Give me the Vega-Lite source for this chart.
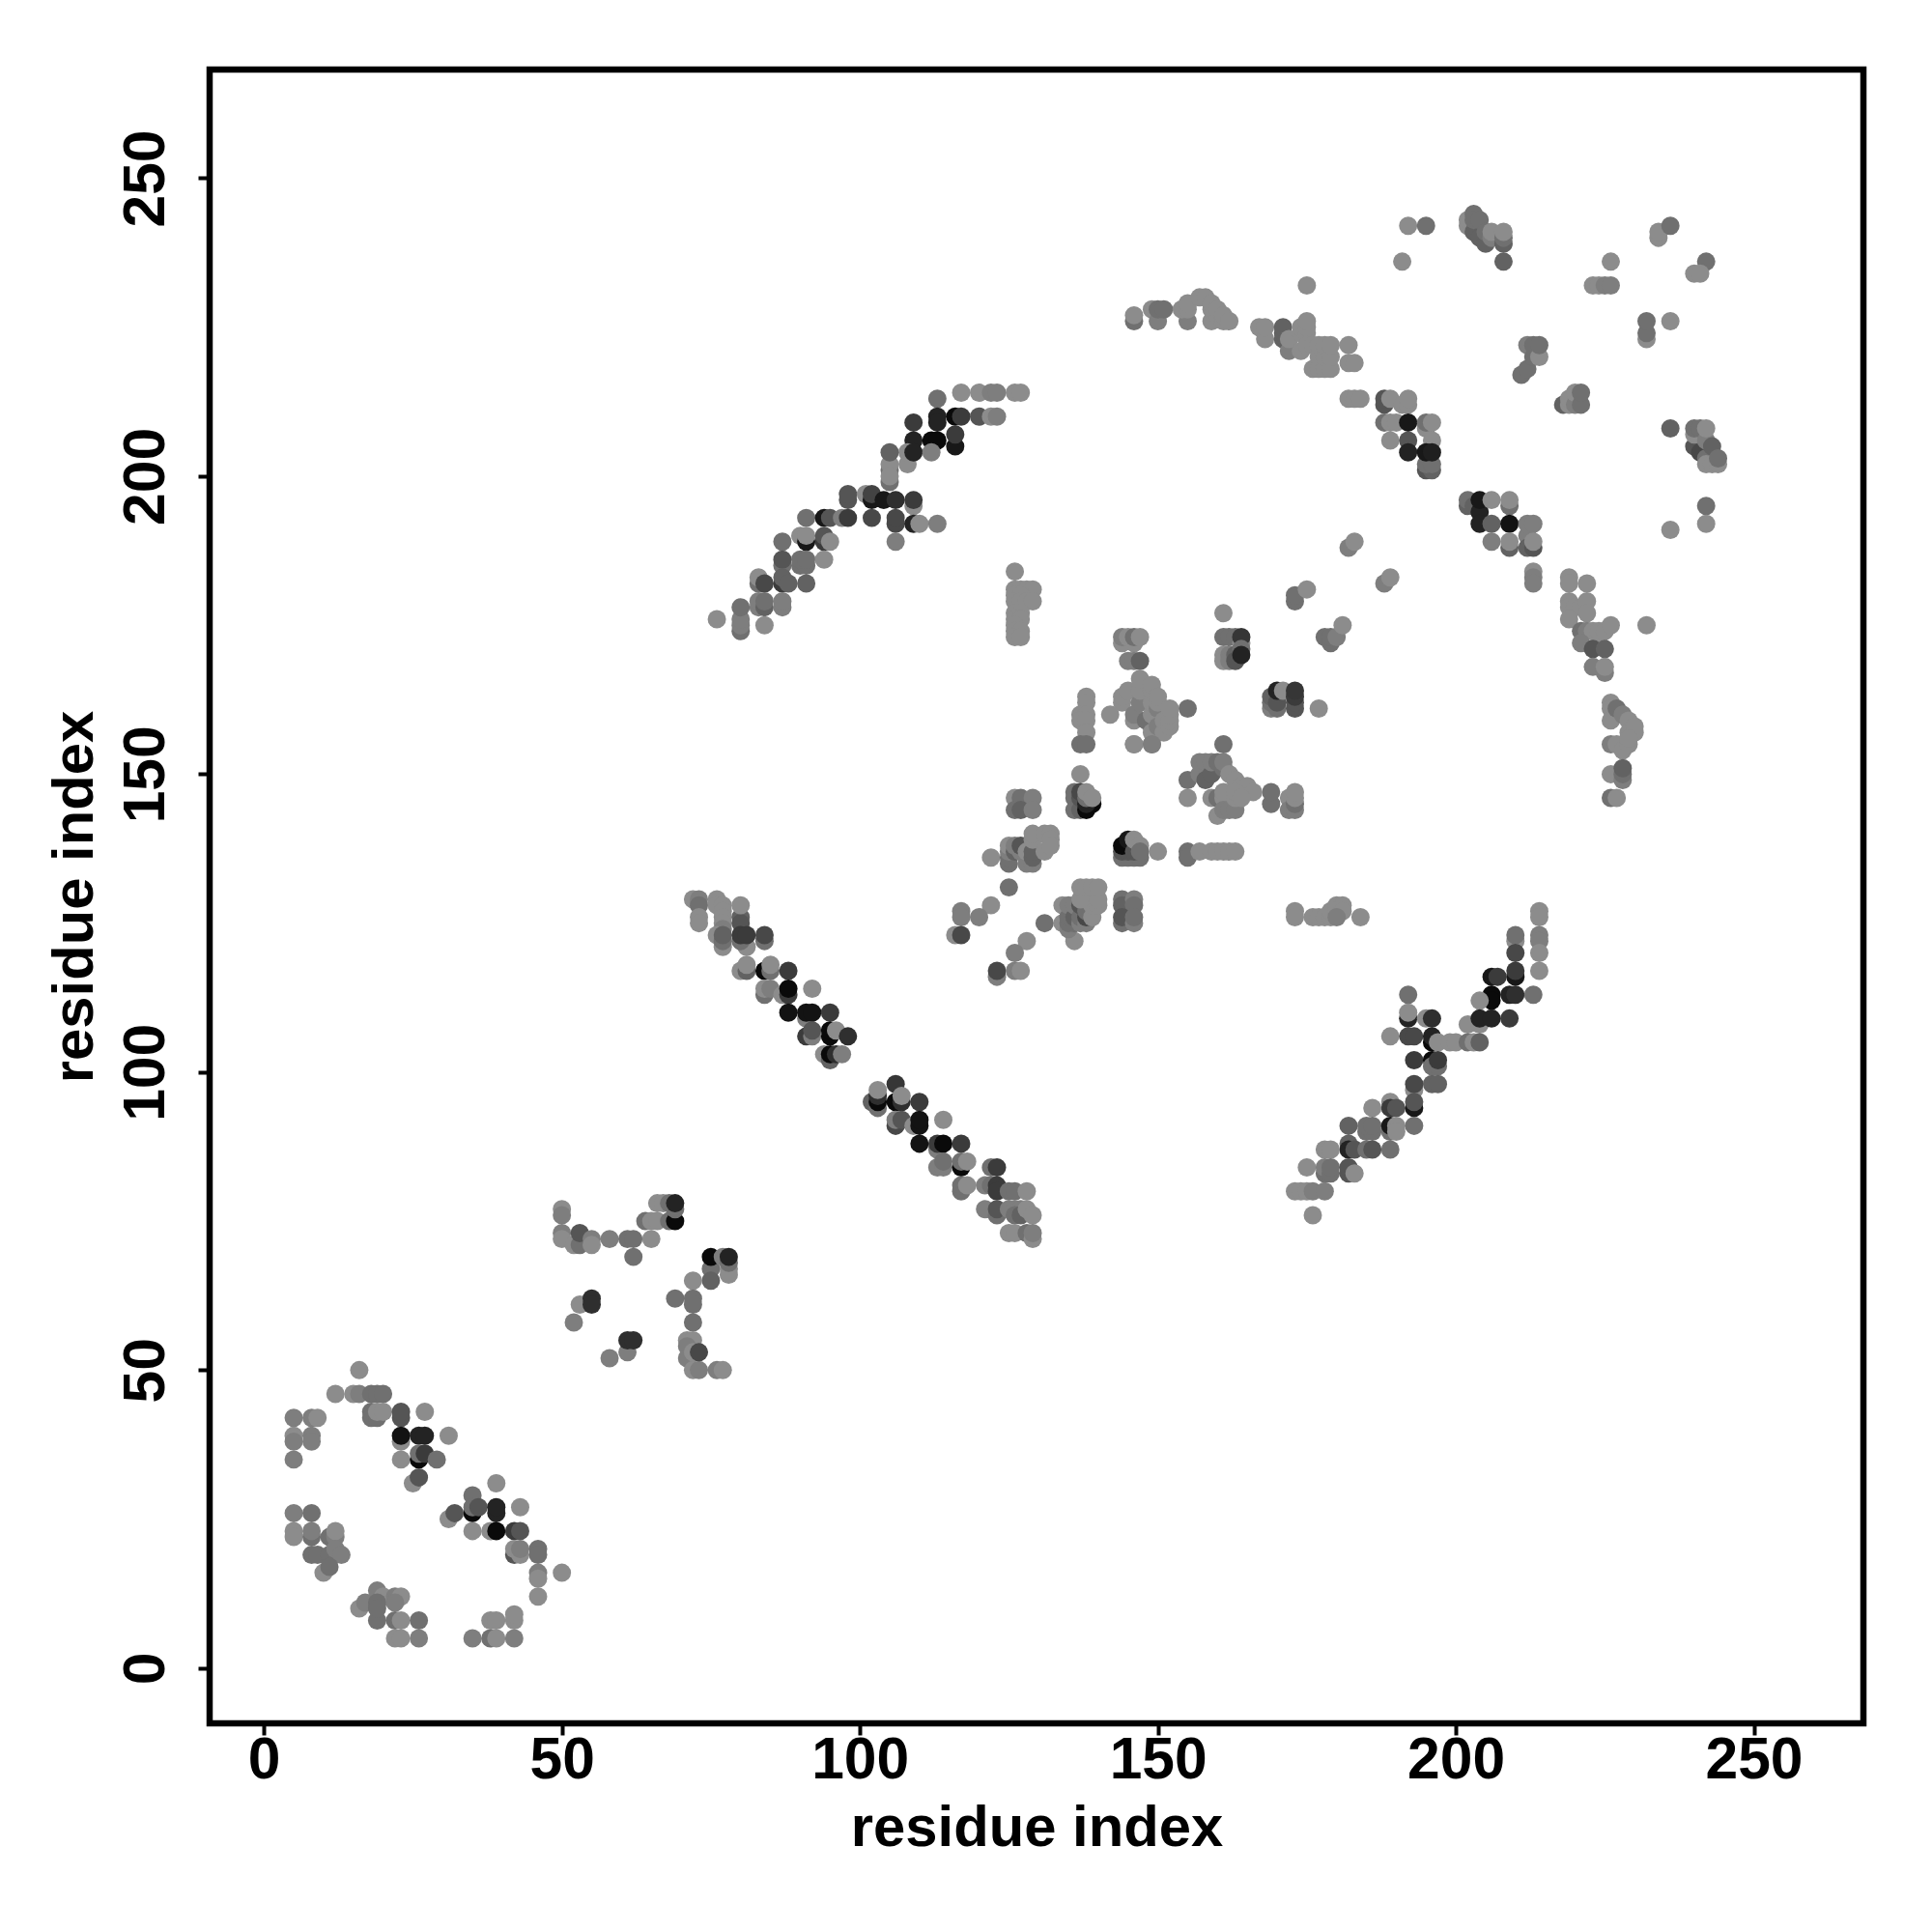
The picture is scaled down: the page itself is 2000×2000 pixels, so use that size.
{"$schema":"https://vega.github.io/schema/vega-lite/v6.json","width":1712,"height":1712,"autosize":"none","padding":{"left":217,"top":72,"right":71,"bottom":216},"background":"white","view":{"stroke":"black","strokeWidth":6.5,"fill":"white"},"data":{"values":[
{"x":16,"y":50,"s":0},{"x":12,"y":46,"s":0},{"x":15,"y":46,"s":0},{"x":16,"y":46,"s":0.5},{"x":18,"y":46,"s":1},{"x":19,"y":46,"s":1},{"x":20,"y":46,"s":1},{"x":5,"y":42,"s":0.5},{"x":8,"y":42,"s":0.5},{"x":9,"y":42,"s":0},{"x":18,"y":43,"s":1},{"x":18,"y":42,"s":1},{"x":19,"y":42,"s":1},{"x":19,"y":43,"s":0},{"x":20,"y":43,"s":0},{"x":23,"y":42,"s":2},{"x":23,"y":43,"s":2},{"x":27,"y":43,"s":0},{"x":23,"y":38,"s":0},{"x":23,"y":39,"s":4.7},{"x":26,"y":39,"s":4},{"x":27,"y":39,"s":4},{"x":31,"y":39,"s":0},{"x":5,"y":39,"s":0},{"x":5,"y":38,"s":0.5},{"x":8,"y":39,"s":0.5},{"x":8,"y":38,"s":0.5},{"x":23,"y":35,"s":0},{"x":26,"y":35,"s":5},{"x":26,"y":36,"s":1},{"x":27,"y":36,"s":3},{"x":29,"y":35,"s":1},{"x":5,"y":35,"s":0.5},{"x":25,"y":31,"s":0},{"x":26,"y":32,"s":2},
{"x":39,"y":31,"s":0},{"x":35,"y":29,"s":1},{"x":35,"y":26,"s":5},{"x":35,"y":27,"s":1},{"x":36,"y":27,"s":2},{"x":39,"y":26,"s":4},{"x":39,"y":27,"s":4},{"x":43,"y":27,"s":0},{"x":31,"y":25,"s":0},{"x":32,"y":26,"s":2},{"x":35,"y":23,"s":0},{"x":38,"y":23,"s":0},{"x":39,"y":23,"s":5},{"x":42,"y":23,"s":3},{"x":43,"y":23,"s":2},
{"x":5,"y":26,"s":0.5},{"x":8,"y":26,"s":1},{"x":5,"y":23,"s":0},{"x":5,"y":22,"s":0},{"x":8,"y":22,"s":1},{"x":8,"y":23,"s":0.5},{"x":11,"y":22,"s":1},{"x":12,"y":22,"s":0.5},{"x":12,"y":23,"s":0},{"x":8,"y":19,"s":1},{"x":9,"y":19,"s":1},{"x":10,"y":16,"s":0},{"x":11,"y":19,"s":1},{"x":12,"y":20,"s":0.5},{"x":13,"y":19,"s":0.5},{"x":11,"y":17,"s":1},
{"x":42,"y":19,"s":2},{"x":42,"y":20,"s":0},{"x":43,"y":19,"s":0},{"x":43,"y":20,"s":0.5},{"x":46,"y":20,"s":1},{"x":46,"y":19,"s":1},{"x":46,"y":16,"s":0.5},{"x":46,"y":15,"s":0},{"x":50,"y":16,"s":0},{"x":46,"y":12,"s":0},
{"x":19,"y":13,"s":0.5},{"x":20,"y":12,"s":0},{"x":22,"y":12,"s":0.5},{"x":23,"y":12,"s":0},{"x":16,"y":10,"s":0},{"x":17,"y":11,"s":0.5},{"x":19,"y":11,"s":1},{"x":22,"y":11,"s":0.5},{"x":19,"y":8,"s":1},{"x":19,"y":10,"s":1},{"x":22,"y":8,"s":1},{"x":23,"y":8,"s":0},{"x":26,"y":8,"s":1},{"x":22,"y":5,"s":0},{"x":23,"y":5,"s":0},{"x":26,"y":5,"s":0.5},{"x":35,"y":5,"s":0.5},{"x":38,"y":5,"s":1},{"x":39,"y":5,"s":0},{"x":42,"y":5,"s":0.5},{"x":38,"y":8,"s":0},{"x":39,"y":8,"s":0},{"x":42,"y":8,"s":0},{"x":42,"y":9,"s":0},
{"x":50,"y":77,"s":0},{"x":50,"y":76,"s":0.5},{"x":50,"y":73,"s":0.5},{"x":50,"y":72,"s":0},{"x":52,"y":71,"s":0},{"x":53,"y":71,"s":1},{"x":53,"y":73,"s":2},{"x":55,"y":72,"s":0.5},{"x":55,"y":71,"s":0},{"x":58,"y":72,"s":0.5},{"x":61,"y":72,"s":1},{"x":62,"y":72,"s":1},{"x":65,"y":72,"s":0},{"x":62,"y":69,"s":1},{"x":64,"y":75,"s":1},{"x":65,"y":75,"s":0},{"x":66,"y":75,"s":0},{"x":66,"y":78,"s":0},{"x":67,"y":78,"s":0},{"x":68,"y":78,"s":1},{"x":68,"y":75,"s":1},{"x":69,"y":75,"s":5},{"x":69,"y":77,"s":1},{"x":69,"y":78,"s":4},
{"x":75,"y":67,"s":1},{"x":75,"y":65,"s":1.5},{"x":75,"y":69,"s":5},{"x":77,"y":69,"s":0.5},{"x":78,"y":67,"s":0},{"x":78,"y":66,"s":0},{"x":78,"y":68,"s":1},{"x":78,"y":69,"s":4},{"x":72,"y":65,"s":0},{"x":69,"y":62,"s":1},{"x":72,"y":62,"s":1},{"x":72,"y":61,"s":1},{"x":72,"y":58,"s":1},{"x":53,"y":61,"s":0},{"x":55,"y":62,"s":3.5},{"x":55,"y":61,"s":3.5},{"x":52,"y":58,"s":0.5},{"x":61,"y":53,"s":0.5},{"x":61,"y":55,"s":3.5},{"x":62,"y":55,"s":3.5},{"x":58,"y":52,"s":0.5},{"x":71,"y":55,"s":0},{"x":72,"y":55,"s":0},{"x":71,"y":54,"s":0.5},{"x":71,"y":52,"s":0.5},{"x":72,"y":50,"s":0},{"x":73,"y":50,"s":0.5},{"x":72,"y":53,"s":0},{"x":73,"y":53,"s":2.5},{"x":76,"y":50,"s":0.5},{"x":77,"y":50,"s":0},
{"x":72,"y":129,"s":0},{"x":73,"y":129,"s":0.5},{"x":73,"y":128,"s":1},{"x":73,"y":126,"s":0},{"x":73,"y":125,"s":0},{"x":76,"y":129,"s":0},{"x":76,"y":128,"s":0},{"x":77,"y":128,"s":0},{"x":77,"y":127,"s":0},{"x":77,"y":126,"s":0},{"x":77,"y":125,"s":0},{"x":77,"y":124,"s":0.5},{"x":76,"y":123,"s":0},{"x":77,"y":121,"s":0},{"x":77,"y":122,"s":1},{"x":77,"y":123,"s":1.5},{"x":80,"y":126,"s":1.5},{"x":80,"y":125,"s":2},{"x":80,"y":128,"s":0},{"x":81,"y":121,"s":0},{"x":80,"y":122,"s":1},{"x":80,"y":123,"s":3},{"x":81,"y":123,"s":3},{"x":84,"y":122,"s":1},{"x":84,"y":123,"s":2.5},
{"x":80,"y":117,"s":0},{"x":81,"y":117,"s":1.5},{"x":81,"y":118,"s":0},{"x":84,"y":117,"s":5},{"x":85,"y":117,"s":1},{"x":85,"y":118,"s":0},{"x":88,"y":117,"s":3},{"x":84,"y":113,"s":1},{"x":84,"y":114,"s":0},{"x":85,"y":114,"s":0.5},{"x":87,"y":113,"s":0},{"x":88,"y":113,"s":3},{"x":88,"y":114,"s":5},{"x":92,"y":114,"s":0},{"x":88,"y":110,"s":4.7},{"x":91,"y":109,"s":0.5},{"x":91,"y":110,"s":4.7},{"x":92,"y":110,"s":4.7},{"x":95,"y":110,"s":3},{"x":91,"y":106,"s":3},{"x":92,"y":106,"s":0.5},{"x":92,"y":107,"s":2},{"x":95,"y":106,"s":5},{"x":95,"y":107,"s":5},{"x":96,"y":107,"s":0},{"x":98,"y":106,"s":3.5},{"x":94,"y":103,"s":0},{"x":95,"y":102,"s":1.5},{"x":95,"y":103,"s":5},{"x":96,"y":103,"s":3.5},{"x":97,"y":103,"s":0.5},
{"x":106,"y":98,"s":3.2},{"x":102,"y":95,"s":1.5},{"x":103,"y":94,"s":1},{"x":103,"y":95,"s":5},{"x":103,"y":96,"s":3.5},{"x":103,"y":97,"s":0},{"x":106,"y":95,"s":5},{"x":107,"y":95,"s":3.5},{"x":107,"y":96,"s":0},{"x":110,"y":95,"s":3},{"x":106,"y":91,"s":2.5},{"x":106,"y":92,"s":0.5},{"x":107,"y":92,"s":2},{"x":109,"y":91,"s":0},{"x":110,"y":91,"s":4.7},{"x":110,"y":92,"s":4.7},{"x":114,"y":92,"s":0},{"x":110,"y":88,"s":4.7},{"x":113,"y":87,"s":0.5},{"x":113,"y":88,"s":3},{"x":114,"y":88,"s":5},{"x":117,"y":88,"s":3},{"x":113,"y":84,"s":0.5},{"x":114,"y":84,"s":0.5},{"x":114,"y":85,"s":1},{"x":117,"y":84,"s":5},{"x":117,"y":85,"s":1},{"x":118,"y":85,"s":0},{"x":117,"y":80,"s":1},{"x":117,"y":81,"s":1},{"x":118,"y":81,"s":0},
{"x":121,"y":81,"s":0.5},{"x":122,"y":84,"s":1},{"x":123,"y":84,"s":3},{"x":122,"y":81,"s":1},{"x":123,"y":81,"s":3},{"x":123,"y":80,"s":3},{"x":125,"y":80,"s":1},{"x":126,"y":80,"s":1},{"x":128,"y":80,"s":0},{"x":121,"y":77,"s":0.5},{"x":123,"y":76,"s":1},{"x":123,"y":77,"s":2},{"x":125,"y":77,"s":0.5},{"x":126,"y":77,"s":0.5},{"x":127,"y":77,"s":0.5},{"x":126,"y":76,"s":1},{"x":127,"y":76,"s":1.5},{"x":128,"y":77,"s":0},{"x":129,"y":76,"s":0},{"x":125,"y":73,"s":0},{"x":126,"y":73,"s":0},{"x":128,"y":73,"s":1},{"x":129,"y":72,"s":0},{"x":129,"y":73,"s":0.5},
{"x":173,"y":127,"s":0},{"x":173,"y":126,"s":0},{"x":176,"y":126,"s":0},{"x":177,"y":126,"s":0},{"x":178,"y":126,"s":0},{"x":179,"y":126,"s":0},{"x":179,"y":127,"s":0},{"x":180,"y":128,"s":0},{"x":181,"y":128,"s":0},{"x":180,"y":127,"s":0},{"x":181,"y":127,"s":0},{"x":180,"y":126,"s":0.5},{"x":184,"y":126,"s":0},
{"x":214,"y":127,"s":0},{"x":214,"y":126,"s":0},{"x":214,"y":123,"s":0.5},{"x":214,"y":122,"s":0.5},{"x":214,"y":120,"s":0},{"x":214,"y":117,"s":0},{"x":210,"y":122,"s":0},{"x":210,"y":123,"s":1},{"x":210,"y":120,"s":2.5},{"x":210,"y":116,"s":4.5},{"x":210,"y":117,"s":3},{"x":206,"y":116,"s":4.5},{"x":207,"y":116,"s":3},{"x":206,"y":113,"s":5},{"x":206,"y":112,"s":5},{"x":209,"y":113,"s":4},{"x":210,"y":113,"s":3.5},{"x":213,"y":113,"s":1},{"x":204,"y":112,"s":0},{"x":202,"y":108,"s":0},{"x":204,"y":108,"s":0},{"x":204,"y":109,"s":4},{"x":206,"y":109,"s":4},{"x":209,"y":109,"s":3},
{"x":192,"y":113,"s":1},{"x":192,"y":109,"s":4},{"x":192,"y":110,"s":0},{"x":195,"y":109,"s":0},{"x":196,"y":109,"s":3.5},{"x":189,"y":106,"s":0},{"x":192,"y":106,"s":2.5},{"x":193,"y":106,"s":2.5},{"x":196,"y":105,"s":5},{"x":196,"y":106,"s":4},{"x":197,"y":105,"s":0},{"x":199,"y":105,"s":0},{"x":200,"y":105,"s":0},{"x":202,"y":105,"s":1},{"x":203,"y":105,"s":0},{"x":204,"y":105,"s":1.5},{"x":193,"y":102,"s":3},{"x":196,"y":102,"s":5},{"x":196,"y":101,"s":1},{"x":197,"y":101,"s":1},{"x":197,"y":102,"s":3},{"x":193,"y":97,"s":0},{"x":193,"y":98,"s":2.5},{"x":196,"y":98,"s":1.5},{"x":197,"y":98,"s":1.5},
{"x":189,"y":95,"s":0},{"x":189,"y":94,"s":3},{"x":190,"y":94,"s":2},{"x":186,"y":94,"s":0},{"x":193,"y":94,"s":4.5},{"x":193,"y":95,"s":2},{"x":182,"y":91,"s":1.5},{"x":185,"y":90,"s":1},{"x":186,"y":90,"s":1},{"x":185,"y":91,"s":1},{"x":186,"y":91,"s":1},{"x":189,"y":90,"s":1},{"x":189,"y":91,"s":4.5},{"x":190,"y":91,"s":0},{"x":190,"y":90,"s":0},{"x":193,"y":91,"s":1},{"x":182,"y":88,"s":1.5},{"x":182,"y":87,"s":4},{"x":183,"y":87,"s":2},{"x":178,"y":87,"s":0},{"x":179,"y":87,"s":0},{"x":185,"y":87,"s":1},{"x":186,"y":87,"s":2},{"x":189,"y":87,"s":1},{"x":175,"y":84,"s":0},{"x":178,"y":83,"s":1},{"x":178,"y":84,"s":0.5},{"x":179,"y":83,"s":1},{"x":179,"y":84,"s":1},{"x":182,"y":83,"s":2},{"x":182,"y":84,"s":2},{"x":183,"y":83,"s":0},{"x":173,"y":80,"s":0},{"x":174,"y":80,"s":0},{"x":175,"y":80,"s":0},{"x":176,"y":80,"s":0.5},{"x":178,"y":80,"s":0.5},{"x":176,"y":76,"s":0},
{"x":137,"y":150,"s":0},{"x":136,"y":147,"s":1},{"x":136,"y":146,"s":1},{"x":136,"y":144,"s":1},{"x":137,"y":144,"s":1.5},{"x":137,"y":146,"s":2},{"x":137,"y":147,"s":2.5},{"x":138,"y":144,"s":5},{"x":139,"y":145,"s":5},{"x":138,"y":145,"s":4},{"x":138,"y":146,"s":1},{"x":138,"y":147,"s":0},{"x":139,"y":146,"s":0},
{"x":126,"y":146,"s":0},{"x":127,"y":146,"s":1},{"x":129,"y":146,"s":0.5},{"x":126,"y":144,"s":1},{"x":127,"y":144,"s":1.5},{"x":129,"y":144,"s":0.5},{"x":122,"y":136,"s":0},{"x":125,"y":135,"s":1},{"x":125,"y":136,"s":1},{"x":125,"y":137,"s":0.5},{"x":125,"y":138,"s":0},{"x":126,"y":137,"s":1.5},{"x":126,"y":138,"s":0.5},{"x":127,"y":137,"s":0.5},{"x":127,"y":138,"s":2},{"x":128,"y":135,"s":0.5},{"x":128,"y":136,"s":0.5},{"x":128,"y":137,"s":0},{"x":129,"y":135,"s":0.5},{"x":129,"y":136,"s":1.5},{"x":129,"y":137,"s":1.5},{"x":129,"y":139,"s":0},{"x":129,"y":140,"s":0},{"x":131,"y":137,"s":0},{"x":131,"y":140,"s":0},{"x":132,"y":140,"s":0},{"x":132,"y":139,"s":0},{"x":132,"y":138,"s":0},
{"x":125,"y":131,"s":1},{"x":122,"y":128,"s":0},{"x":120,"y":126,"s":0.5},{"x":117,"y":127,"s":0.5},{"x":117,"y":126,"s":0.5},{"x":116,"y":123,"s":0},{"x":117,"y":123,"s":2.5},{"x":131,"y":125,"s":1},{"x":128,"y":122,"s":0},{"x":126,"y":120,"s":0.5},{"x":123,"y":116,"s":0.5},{"x":123,"y":117,"s":2.5},{"x":126,"y":117,"s":0.5},{"x":127,"y":117,"s":0},{"x":136,"y":122,"s":0},
{"x":134,"y":125,"s":0},{"x":134,"y":128,"s":0},{"x":135,"y":124,"s":0.5},{"x":135,"y":125,"s":1},{"x":135,"y":126,"s":1},{"x":135,"y":128,"s":0.5},{"x":136,"y":125,"s":1},{"x":136,"y":126,"s":1.5},{"x":136,"y":128,"s":0.5},{"x":137,"y":125,"s":0.5},{"x":137,"y":126,"s":1},{"x":137,"y":128,"s":2},{"x":138,"y":125,"s":0.5},{"x":138,"y":126,"s":2.5},{"x":138,"y":127,"s":1},{"x":138,"y":129,"s":0},{"x":139,"y":126,"s":0},{"x":139,"y":128,"s":0},{"x":140,"y":128,"s":0},{"x":137,"y":129,"s":0},{"x":140,"y":129,"s":0},{"x":137,"y":131,"s":0},{"x":138,"y":131,"s":0},{"x":139,"y":131,"s":0},{"x":140,"y":131,"s":0},
{"x":144,"y":129,"s":1},{"x":144,"y":128,"s":1.5},{"x":146,"y":129,"s":0.5},{"x":146,"y":128,"s":1},{"x":144,"y":125,"s":1},{"x":144,"y":126,"s":2},{"x":146,"y":125,"s":0.5},{"x":146,"y":126,"s":1},
{"x":144,"y":136,"s":1},{"x":145,"y":136,"s":1},{"x":144,"y":137,"s":2},{"x":146,"y":136,"s":1},{"x":147,"y":136,"s":1},{"x":145,"y":137,"s":2},{"x":144,"y":138,"s":5},{"x":145,"y":139,"s":4.5},{"x":146,"y":137,"s":2},{"x":146,"y":139,"s":0},{"x":147,"y":138,"s":0},{"x":147,"y":137,"s":1},{"x":150,"y":137,"s":0},
{"x":155,"y":137,"s":1},{"x":155,"y":136,"s":1},{"x":157,"y":137,"s":0},{"x":159,"y":137,"s":0},{"x":160,"y":137,"s":0},{"x":161,"y":137,"s":0},{"x":162,"y":137,"s":0},{"x":163,"y":137,"s":0},
{"x":161,"y":177,"s":0},{"x":161,"y":173,"s":1},{"x":162,"y":173,"s":1},{"x":163,"y":173,"s":1},{"x":164,"y":172,"s":0},{"x":164,"y":173,"s":3.2},{"x":161,"y":170,"s":0},{"x":161,"y":169,"s":0},{"x":162,"y":170,"s":0.5},{"x":162,"y":169,"s":0.5},{"x":163,"y":170,"s":1.5},{"x":163,"y":169,"s":2},{"x":164,"y":171,"s":1},{"x":164,"y":170,"s":4},{"x":155,"y":161,"s":1},
{"x":169,"y":161,"s":0.5},{"x":169,"y":162,"s":1},{"x":169,"y":163,"s":1.5},{"x":170,"y":161,"s":1},{"x":170,"y":162,"s":2},{"x":170,"y":164,"s":4},{"x":171,"y":164,"s":0},{"x":173,"y":161,"s":2},{"x":173,"y":162,"s":2},{"x":173,"y":163,"s":3},{"x":173,"y":164,"s":3.2},{"x":177,"y":161,"s":0},
{"x":161,"y":155,"s":1},{"x":146,"y":155,"s":0},{"x":149,"y":155,"s":0.5},{"x":155,"y":149,"s":1},{"x":155,"y":146,"s":0},
{"x":169,"y":145,"s":1},{"x":169,"y":147,"s":1},{"x":172,"y":146,"s":0},{"x":172,"y":144,"s":0.5},{"x":173,"y":144,"s":0.5},{"x":173,"y":145,"s":1},{"x":173,"y":146,"s":0},{"x":173,"y":147,"s":0},
{"x":157,"y":150,"s":0.5},{"x":157,"y":152,"s":0.5},{"x":158,"y":149,"s":1.5},{"x":158,"y":152,"s":0.5},{"x":159,"y":150,"s":1.5},{"x":159,"y":152,"s":0.5},{"x":160,"y":152,"s":1},{"x":161,"y":151,"s":1},{"x":161,"y":152,"s":0.5},{"x":162,"y":150,"s":0},{"x":163,"y":149,"s":0},{"x":164,"y":148,"s":0},{"x":165,"y":148,"s":0},{"x":166,"y":147,"s":0},{"x":159,"y":146,"s":0},{"x":160,"y":146,"s":1},{"x":161,"y":146,"s":0},{"x":161,"y":147,"s":0},{"x":160,"y":143,"s":0},{"x":161,"y":144,"s":0.5},{"x":162,"y":144,"s":0.5},{"x":163,"y":144,"s":0.5},{"x":163,"y":146,"s":0},{"x":163,"y":147,"s":0},{"x":164,"y":146,"s":0},
{"x":126,"y":184,"s":0},{"x":126,"y":181,"s":0},{"x":127,"y":181,"s":0},{"x":128,"y":181,"s":0},{"x":129,"y":181,"s":0},{"x":126,"y":180,"s":0},{"x":127,"y":180,"s":0},{"x":126,"y":179,"s":0},{"x":127,"y":179,"s":0},{"x":128,"y":179,"s":0},{"x":129,"y":179,"s":0},{"x":126,"y":177,"s":0},{"x":127,"y":177,"s":0},{"x":126,"y":176,"s":0},{"x":127,"y":176,"s":0},{"x":126,"y":175,"s":0},{"x":126,"y":174,"s":0},{"x":127,"y":174,"s":0},{"x":126,"y":173,"s":0},{"x":127,"y":173,"s":0},
{"x":144,"y":172,"s":0},{"x":144,"y":173,"s":0.5},{"x":145,"y":173,"s":0},{"x":146,"y":172,"s":0},{"x":146,"y":173,"s":1},{"x":147,"y":173,"s":0},{"x":145,"y":169,"s":0.5},{"x":146,"y":169,"s":0.5},{"x":147,"y":169,"s":1.5},
{"x":144,"y":162,"s":0},{"x":144,"y":163,"s":0},{"x":142,"y":160,"s":0},{"x":145,"y":164,"s":0},{"x":146,"y":159,"s":0},{"x":146,"y":160,"s":0.5},{"x":147,"y":162,"s":0.5},{"x":147,"y":164,"s":0},{"x":147,"y":166,"s":0},{"x":148,"y":159,"s":1},{"x":149,"y":158,"s":1},{"x":149,"y":157,"s":0},{"x":149,"y":160,"s":0},{"x":149,"y":162,"s":0},{"x":149,"y":164,"s":0},{"x":149,"y":165,"s":0},{"x":150,"y":158,"s":0.5},{"x":150,"y":161,"s":0.5},{"x":150,"y":162,"s":0},{"x":150,"y":163,"s":0},{"x":151,"y":157,"s":0},{"x":151,"y":159,"s":0},{"x":152,"y":158,"s":0},{"x":152,"y":159,"s":0},{"x":152,"y":160,"s":0},{"x":152,"y":161,"s":0},{"x":146,"y":155,"s":0},{"x":149,"y":155,"s":0.5},
{"x":138,"y":163,"s":0},{"x":138,"y":162,"s":0},{"x":137,"y":160,"s":0},{"x":138,"y":160,"s":0},{"x":137,"y":159,"s":0},{"x":138,"y":159,"s":0},{"x":138,"y":157,"s":0},{"x":137,"y":155,"s":1},{"x":138,"y":155,"s":1},
{"x":117,"y":214,"s":0},{"x":120,"y":214,"s":0},{"x":122,"y":214,"s":0.5},{"x":123,"y":214,"s":0.5},{"x":126,"y":214,"s":0},{"x":127,"y":214,"s":0},{"x":113,"y":213,"s":1},{"x":113,"y":210,"s":4},{"x":113,"y":209,"s":4},{"x":116,"y":210,"s":5},{"x":117,"y":210,"s":3},{"x":120,"y":210,"s":2},{"x":122,"y":210,"s":0},{"x":123,"y":210,"s":0.5},{"x":109,"y":209,"s":3},{"x":109,"y":206,"s":4},{"x":112,"y":206,"s":5},{"x":113,"y":206,"s":5},{"x":116,"y":205,"s":4.5},{"x":116,"y":207,"s":3},{"x":108,"y":202,"s":0},{"x":108,"y":204,"s":0},{"x":109,"y":204,"s":4},{"x":112,"y":204,"s":0.5},{"x":105,"y":201,"s":1},{"x":105,"y":202,"s":0},{"x":105,"y":204,"s":1.5},{"x":105,"y":199,"s":1},{"x":105,"y":200,"s":0},
{"x":98,"y":196,"s":2},{"x":98,"y":197,"s":2},{"x":101,"y":197,"s":0},{"x":102,"y":196,"s":4.5},{"x":102,"y":197,"s":2.7},{"x":104,"y":196,"s":4.5},{"x":106,"y":196,"s":3.5},{"x":109,"y":195,"s":0},{"x":109,"y":196,"s":3},{"x":91,"y":193,"s":1},{"x":94,"y":193,"s":4.5},{"x":95,"y":193,"s":2},{"x":97,"y":193,"s":0.5},{"x":98,"y":193,"s":3},{"x":102,"y":193,"s":2.5},{"x":106,"y":192,"s":2.5},{"x":106,"y":193,"s":2.5},{"x":109,"y":192,"s":4},{"x":110,"y":192,"s":0},{"x":113,"y":192,"s":0.5},{"x":106,"y":189,"s":0.5},
{"x":87,"y":189,"s":1},{"x":90,"y":190,"s":0},{"x":91,"y":189,"s":4.5},{"x":91,"y":190,"s":0},{"x":94,"y":189,"s":3},{"x":94,"y":190,"s":2},{"x":95,"y":189,"s":0},{"x":87,"y":185,"s":1},{"x":87,"y":186,"s":2},{"x":90,"y":185,"s":1},{"x":91,"y":185,"s":1},{"x":90,"y":186,"s":1},{"x":91,"y":186,"s":1},{"x":94,"y":186,"s":0},{"x":83,"y":182,"s":1},{"x":83,"y":183,"s":0},{"x":84,"y":182,"s":2.5},{"x":87,"y":182,"s":3},{"x":87,"y":183,"s":1.5},{"x":88,"y":182,"s":1.5},{"x":91,"y":182,"s":1.5},{"x":83,"y":178,"s":0.5},{"x":83,"y":179,"s":0.5},{"x":84,"y":178,"s":1.5},{"x":84,"y":179,"s":1},{"x":87,"y":178,"s":0.5},{"x":87,"y":179,"s":0.5},{"x":80,"y":174,"s":1},{"x":80,"y":175,"s":0.5},{"x":80,"y":176,"s":0.5},{"x":80,"y":178,"s":1},{"x":84,"y":175,"s":0},{"x":76,"y":176,"s":0},
{"x":175,"y":232,"s":0},{"x":146,"y":226,"s":1},{"x":146,"y":227,"s":0},{"x":149,"y":228,"s":0},{"x":150,"y":226,"s":0.5},{"x":150,"y":228,"s":1},{"x":151,"y":228,"s":1},{"x":155,"y":226,"s":0.5},{"x":154,"y":228,"s":0},{"x":155,"y":228,"s":0},{"x":155,"y":229,"s":0},{"x":157,"y":230,"s":0},{"x":158,"y":230,"s":0},{"x":159,"y":226,"s":0},{"x":159,"y":228,"s":0},{"x":159,"y":229,"s":0},{"x":160,"y":227,"s":0},{"x":160,"y":228,"s":0},{"x":161,"y":226,"s":0},{"x":161,"y":227,"s":0},{"x":162,"y":226,"s":0},
{"x":167,"y":225,"s":0},{"x":168,"y":223,"s":0},{"x":168,"y":225,"s":0},{"x":171,"y":223,"s":1.5},{"x":171,"y":224,"s":1.5},{"x":171,"y":225,"s":1.5},{"x":172,"y":221,"s":0.5},{"x":172,"y":223,"s":0},{"x":174,"y":221,"s":0},{"x":174,"y":224,"s":0},{"x":174,"y":225,"s":0},{"x":175,"y":224,"s":0},{"x":175,"y":225,"s":0},{"x":175,"y":226,"s":0},{"x":175,"y":222,"s":0},{"x":176,"y":218,"s":0},{"x":176,"y":222,"s":0},{"x":177,"y":218,"s":0},{"x":177,"y":220,"s":0},{"x":177,"y":222,"s":0},{"x":178,"y":218,"s":0},{"x":178,"y":220,"s":0},{"x":178,"y":222,"s":0},{"x":179,"y":218,"s":0},{"x":179,"y":220,"s":0},{"x":179,"y":222,"s":0},{"x":182,"y":222,"s":0},{"x":182,"y":219,"s":0},{"x":183,"y":219,"s":0},
{"x":182,"y":213,"s":0},{"x":183,"y":213,"s":0},{"x":184,"y":213,"s":0},{"x":188,"y":212,"s":2},{"x":188,"y":213,"s":2},{"x":189,"y":213,"s":0},{"x":191,"y":212,"s":0},{"x":192,"y":212,"s":0},{"x":192,"y":213,"s":0},{"x":188,"y":209,"s":1},{"x":189,"y":209,"s":0},{"x":190,"y":209,"s":0},{"x":192,"y":209,"s":4.5},{"x":195,"y":208,"s":0},{"x":195,"y":209,"s":1},{"x":196,"y":209,"s":0},{"x":189,"y":206,"s":0},{"x":192,"y":206,"s":2},{"x":196,"y":206,"s":0},{"x":195,"y":201,"s":2},{"x":196,"y":201,"s":1.5},{"x":195,"y":202,"s":1},{"x":196,"y":202,"s":1},{"x":192,"y":204,"s":4},{"x":195,"y":204,"s":4.5},{"x":196,"y":204,"s":4.2},
{"x":182,"y":188,"s":0.5},{"x":183,"y":189,"s":0},{"x":188,"y":182,"s":0.5},{"x":189,"y":183,"s":0},{"x":173,"y":179,"s":1},{"x":173,"y":180,"s":1},{"x":175,"y":181,"s":0},{"x":178,"y":173,"s":1},{"x":179,"y":172,"s":1},{"x":179,"y":173,"s":1},{"x":180,"y":173,"s":0.5},{"x":181,"y":175,"s":0},
{"x":192,"y":242,"s":0},{"x":195,"y":242,"s":1},{"x":191,"y":236,"s":0},{"x":202,"y":242,"s":0},{"x":202,"y":243,"s":0},{"x":203,"y":244,"s":1},{"x":203,"y":241,"s":1.5},{"x":203,"y":243,"s":1},{"x":204,"y":240,"s":1.5},{"x":204,"y":243,"s":1},{"x":205,"y":239,"s":1.5},{"x":205,"y":241,"s":1},{"x":206,"y":240,"s":0.5},{"x":206,"y":241,"s":0},{"x":208,"y":239,"s":1.5},{"x":208,"y":240,"s":1},{"x":208,"y":241,"s":0},{"x":208,"y":236,"s":1.5},
{"x":234,"y":240,"s":0},{"x":234,"y":241,"s":0},{"x":236,"y":242,"s":1},{"x":226,"y":236,"s":0},{"x":223,"y":232,"s":0},{"x":224,"y":232,"s":0},{"x":225,"y":232,"s":0.5},{"x":226,"y":232,"s":0.5},{"x":242,"y":236,"s":1},{"x":240,"y":234,"s":0},{"x":241,"y":234,"s":0},{"x":232,"y":223,"s":0},{"x":232,"y":224,"s":1},{"x":232,"y":226,"s":1},{"x":236,"y":226,"s":0},
{"x":211,"y":217,"s":1},{"x":212,"y":218,"s":1},{"x":212,"y":222,"s":0.5},{"x":213,"y":220,"s":1},{"x":213,"y":222,"s":1},{"x":214,"y":220,"s":0},{"x":214,"y":222,"s":1},{"x":218,"y":212,"s":1.5},{"x":219,"y":212,"s":0},{"x":219,"y":213,"s":0},{"x":220,"y":212,"s":0.5},{"x":220,"y":214,"s":0},{"x":221,"y":212,"s":1},{"x":221,"y":214,"s":1},
{"x":236,"y":208,"s":1.5},{"x":240,"y":205,"s":2},{"x":241,"y":204,"s":2.5},{"x":240,"y":207,"s":0},{"x":240,"y":208,"s":1},{"x":241,"y":208,"s":1},{"x":242,"y":203,"s":1},{"x":242,"y":206,"s":0.5},{"x":242,"y":208,"s":0},{"x":243,"y":205,"s":1.5},{"x":242,"y":202,"s":0},{"x":243,"y":202,"s":0},{"x":244,"y":202,"s":0},{"x":244,"y":203,"s":1},{"x":242,"y":195,"s":1},{"x":242,"y":192,"s":0},{"x":236,"y":191,"s":0},
{"x":202,"y":195,"s":1.5},{"x":202,"y":196,"s":1},{"x":203,"y":195,"s":1.5},{"x":204,"y":194,"s":4},{"x":204,"y":196,"s":4.5},{"x":206,"y":196,"s":0},{"x":209,"y":195,"s":1},{"x":209,"y":196,"s":0},{"x":204,"y":192,"s":4},{"x":206,"y":192,"s":1.5},{"x":209,"y":192,"s":4.7},{"x":212,"y":190,"s":0.5},{"x":212,"y":192,"s":0.5},{"x":213,"y":192,"s":0.5},{"x":206,"y":189,"s":0.5},{"x":209,"y":188,"s":1.5},{"x":209,"y":189,"s":0},{"x":212,"y":188,"s":1.5},{"x":213,"y":188,"s":2},{"x":213,"y":189,"s":0},{"x":213,"y":184,"s":0},{"x":213,"y":183,"s":0.5},{"x":213,"y":182,"s":0.5},
{"x":219,"y":183,"s":0},{"x":219,"y":182,"s":0},{"x":222,"y":182,"s":0},{"x":219,"y":179,"s":0},{"x":219,"y":178,"s":0},{"x":220,"y":178,"s":0},{"x":221,"y":178,"s":0},{"x":222,"y":179,"s":0},{"x":222,"y":177,"s":0},{"x":219,"y":176,"s":0},{"x":221,"y":174,"s":1},{"x":222,"y":174,"s":0.5},{"x":223,"y":174,"s":0},{"x":224,"y":173,"s":0},{"x":224,"y":174,"s":0},{"x":225,"y":174,"s":0},{"x":226,"y":175,"s":0},{"x":232,"y":175,"s":0},{"x":221,"y":172,"s":0.5},{"x":223,"y":171,"s":2},{"x":225,"y":171,"s":1.5},{"x":223,"y":168,"s":0.5},{"x":225,"y":167,"s":0.5},{"x":225,"y":168,"s":0},
{"x":226,"y":162,"s":0},{"x":226,"y":161,"s":0},{"x":226,"y":159,"s":0},{"x":227,"y":161,"s":1},{"x":228,"y":160,"s":0.5},{"x":229,"y":159,"s":0},{"x":229,"y":157,"s":0},{"x":230,"y":157,"s":0},{"x":230,"y":158,"s":0},{"x":226,"y":155,"s":0.5},{"x":227,"y":155,"s":0},{"x":228,"y":154,"s":0},{"x":229,"y":155,"s":0},{"x":229,"y":156,"s":0},{"x":226,"y":150,"s":0},{"x":228,"y":149,"s":0.5},{"x":228,"y":150,"s":1},{"x":228,"y":151,"s":1.5},{"x":226,"y":146,"s":1},{"x":227,"y":146,"s":0}
]},"mark":{"type":"point","filled":true,"opacity":1,"size":360,"strokeWidth":0},"encoding":{"x":{"field":"x","type":"quantitative","scale":{"domain":[-9.11,268.39],"nice":false,"zero":false},"axis":{"values":[0,50,100,150,200,250],"grid":false,"domain":false,"ticks":true,"tickColor":"black","tickWidth":4,"tickSize":12,"labelFont":"Liberation Sans","labelFontWeight":"bold","labelFontSize":60.5,"labelColor":"black","labelPadding":-4,"title":"residue index","titleFont":"Liberation Sans","titleFontWeight":"bold","titleFontSize":59.8,"titleColor":"black","titlePadding":11}},"y":{"field":"y","type":"quantitative","scale":{"domain":[-9.27,268.23],"nice":false,"zero":false},"axis":{"values":[0,50,100,150,200,250],"grid":false,"domain":false,"ticks":true,"tickColor":"black","tickWidth":4,"tickSize":12,"labelFont":"Liberation Sans","labelFontWeight":"bold","labelFontSize":60.5,"labelColor":"black","labelAngle":-90,"labelPadding":23,"title":"residue index","titleFont":"Liberation Sans","titleFontWeight":"bold","titleFontSize":59.8,"titleColor":"black","titlePadding":13}},"color":{"field":"s","type":"quantitative","scale":{"domain":[0,5],"range":["#8c8c8c","#0a0a0a"]},"legend":null}}}
